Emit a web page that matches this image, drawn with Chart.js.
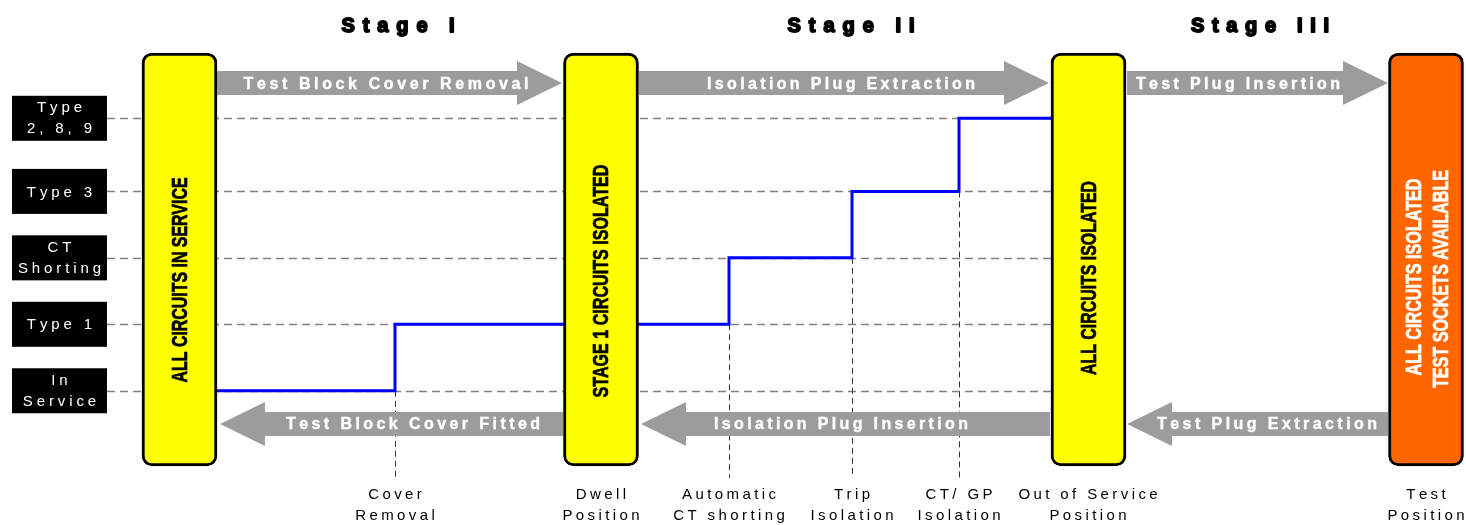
<!DOCTYPE html>
<html><head><meta charset="utf-8">
<script src="https://cdn.jsdelivr.net/npm/chart.js@4.4.1/dist/chart.umd.min.js"></script>
<style>html,body{margin:0;padding:0;background:#fff;}#wrap{width:1466px;height:525px;}</style>
</head><body><div id="wrap"><canvas id="c" width="1466" height="525"></canvas></div>
<script>
// ---- data ----
const levelNames = [['In','Service'],['Type 1'],['CT','Shorting'],['Type 3'],['Type','2, 8, 9']];
const levelValues = [0, 1, 2, 3, 4.1];
const eventNames = [['Cover','Removal'],['Dwell','Position'],['Automatic','CT shorting'],['Trip','Isolation'],['CT/ GP','Isolation'],['Out of Service','Position'],['Test','Position']];
const eventX = [395, 601, 729, 852, 959, 1088, 1426];
const stepX = [142, 395, 729, 852, 959, 1051];
const stepLevel = [0, 1, 2, 3, 4.1, 4.1];
const stateX = [179.5, 601, 1088.5, 1426];
const stateSpan = [-1.13, 5.083];
const stateText = [['ALL CIRCUITS IN SERVICE'],['STAGE 1 CIRCUITS ISOLATED'],['ALL CIRCUITS ISOLATED'],['ALL CIRCUITS ISOLATED','TEST SOCKETS AVAILABLE']];
const stateColors = ['#ffff00','#ffff00','#ffff00','#ff6600'];
const stageNames = ['Stage I','Stage II','Stage III'];
const stageX = [398, 851, 1260];
const fwdNames = ['Test Block Cover Removal','Isolation Plug Extraction','Test Plug Insertion'];
const fwdFrom = [217, 639, 1127];
const fwdTo = [562, 1049, 1388];
const backNames = ['Test Block Cover Fitted','Isolation Plug Insertion','Test Plug Extraction'];
const backFrom = [563, 1050, 1388];
const backTo = [220, 641, 1127];

// ---- style ----
const FONT = '"Liberation Sans", Arial, sans-serif';
const fwdTextC = [386, 841, 1238], fwdTextW = [285, 268, 204];
const backTextC = [413, 841, 1267], backTextW = [254, 254, 220];
const stageW = [113, 127, 138];
const stateTextStyle = [
  [{dx:0, cy:280, len:205, color:'#000'}],
  [{dx:0, cy:281, len:233, color:'#000'}],
  [{dx:0, cy:278, len:194, color:'#000'}],
  [{dx:-12, cy:277, len:197, color:'#fff'},{dx:15, cy:279, len:218, color:'#fff'}]
];

function spaced(ctx, str, cx, cy, spacing, stroke) {
  const chars = [...str];
  const ws = chars.map(c => ctx.measureText(c).width);
  const total = ws.reduce((a,b)=>a+b,0) + spacing*(chars.length-1);
  let x = cx - total/2;
  ctx.textAlign = 'left'; ctx.textBaseline = 'middle';
  chars.forEach((c,i) => {
    ctx.fillText(c, x, cy);
    if (stroke) ctx.strokeText(c, x, cy);
    x += ws[i] + spacing;
  });
}
function fitted(ctx, str, cx, cy, width, stroke) {
  const chars = [...str];
  const sum = chars.reduce((a,c)=>a+ctx.measureText(c).width,0);
  spaced(ctx, str, cx, cy, (width - sum)/(chars.length-1), stroke);
}
function arrow(ctx, x0, x1, cy) {
  const d = Math.sign(x1 - x0), hl = 45, sh = 12, hh = 22;
  ctx.beginPath();
  ctx.moveTo(x0, cy - sh);
  ctx.lineTo(x1 - d*hl, cy - sh);
  ctx.lineTo(x1 - d*hl, cy - hh);
  ctx.lineTo(x1, cy);
  ctx.lineTo(x1 - d*hl, cy + hh);
  ctx.lineTo(x1 - d*hl, cy + sh);
  ctx.lineTo(x0, cy + sh);
  ctx.closePath();
  ctx.fillStyle = '#9c9c9c';
  ctx.fill();
}

const decor = {
  id: 'decor',
  beforeDatasetsDraw(chart) {
    const ctx = chart.ctx, xs = chart.scales.x, ys = chart.scales.y;
    ctx.save();
    // horizontal dashed level lines
    ctx.strokeStyle = '#808080'; ctx.lineWidth = 1.3; ctx.setLineDash([8,5]);
    levelValues.forEach(v => {
      const y = Math.round(ys.getPixelForValue(v)) + 0.5;
      ctx.beginPath(); ctx.moveTo(107, y); ctx.lineTo(xs.getPixelForValue(stepX[stepX.length-1]), y); ctx.stroke();
    });
    // vertical dashed event lines
    ctx.strokeStyle = '#333'; ctx.lineWidth = 1; ctx.setLineDash([6,4]);
    for (let i = 1; i < stepX.length - 1; i++) {
      const x = Math.round(xs.getPixelForValue(stepX[i])) + 0.5;
      ctx.beginPath(); ctx.moveTo(x, ys.getPixelForValue(stepLevel[i-1])); ctx.lineTo(x, 478); ctx.stroke();
    }
    ctx.setLineDash([]);
    // level label boxes
    levelValues.forEach((v, i) => {
      const y = ys.getPixelForValue(v);
      ctx.fillStyle = '#000';
      ctx.fillRect(12, y - 22.5, 95, 45);
      ctx.fillStyle = '#fff';
      ctx.font = '15px ' + FONT;
      const lines = levelNames[i];
      if (lines.length === 1) spaced(ctx, lines[0], 59.5, y + 1, 3.9);
      else { spaced(ctx, lines[0], 59.5, y - 10, 3.9); spaced(ctx, lines[1], 59.5, y + 11, 3.9); }
    });
    ctx.restore();
  },
  afterDatasetsDraw(chart) {
    const ctx = chart.ctx, xs = chart.scales.x;
    ctx.save();
    // state texts
    stateX.forEach((sx, i) => {
      stateText[i].forEach((t, j) => {
        const st = stateTextStyle[i][j];
        ctx.save();
        ctx.translate(xs.getPixelForValue(sx) + st.dx, st.cy);
        ctx.rotate(-Math.PI/2);
        ctx.font = 'bold 22px ' + FONT;
        const w = ctx.measureText(t).width;
        ctx.scale(st.len / w, 1);
        ctx.fillStyle = st.color; ctx.strokeStyle = st.color; ctx.lineWidth = 0.7;
        ctx.textAlign = 'center'; ctx.textBaseline = 'middle';
        ctx.fillText(t, 0, 1);
        ctx.strokeText(t, 0, 1);
        ctx.restore();
      });
    });
    // arrows
    fwdNames.forEach((n, i) => {
      arrow(ctx, xs.getPixelForValue(fwdFrom[i]), xs.getPixelForValue(fwdTo[i]), 83);
      ctx.fillStyle = '#fff'; ctx.strokeStyle = '#fff'; ctx.lineWidth = 0.4; ctx.font = 'bold 16px ' + FONT;
      fitted(ctx, n, fwdTextC[i], 84.5, fwdTextW[i], true);
    });
    backNames.forEach((n, i) => {
      arrow(ctx, xs.getPixelForValue(backFrom[i]), xs.getPixelForValue(backTo[i]), 424);
      ctx.fillStyle = '#fff'; ctx.strokeStyle = '#fff'; ctx.lineWidth = 0.4; ctx.font = 'bold 16px ' + FONT;
      fitted(ctx, n, backTextC[i], 425, backTextW[i], true);
    });
    // stage titles
    stageNames.forEach((n, i) => {
      ctx.fillStyle = '#000'; ctx.font = 'bold 20px ' + FONT;
      ctx.strokeStyle = '#000'; ctx.lineWidth = 1.8; ctx.lineJoin = 'round';
      fitted(ctx, n, xs.getPixelForValue(stageX[i]), 26, stageW[i], true);
    });
    // event labels
    ctx.fillStyle = '#000'; ctx.font = '15px ' + FONT;
    eventNames.forEach((lines, i) => {
      const x = xs.getPixelForValue(eventX[i]);
      spaced(ctx, lines[0], x, 495, 3.4);
      spaced(ctx, lines[1], x, 516, 3.4);
    });
    ctx.restore();
  }
};

new Chart(document.getElementById('c'), {
  type: 'bar',
  data: {
    datasets: [
      {
        type: 'bar',
        data: stateX.map(x => ({x: x, y: stateSpan})),
        backgroundColor: stateColors,
        borderColor: '#000',
        borderWidth: 3,
        borderRadius: 10,
        borderSkipped: false,
        barThickness: 75,
        order: 0
      },
      {
        type: 'line',
        data: stepX.map((x, i) => ({x: x, y: stepLevel[i]})),
        borderColor: '#0000ff',
        borderWidth: 3,
        stepped: 'before',
        pointRadius: 0,
        fill: false,
        order: 1
      }
    ]
  },
  options: {
    responsive: false,
    animation: false,
    layout: {padding: 0},
    plugins: {legend: {display: false}, tooltip: {enabled: false}},
    scales: {
      x: {type: 'linear', min: 0, max: 1466, offset: false, display: false},
      y: {type: 'linear', min: -2.02, max: 5.88, display: false}
    }
  },
  plugins: [decor]
});
</script></body></html>
